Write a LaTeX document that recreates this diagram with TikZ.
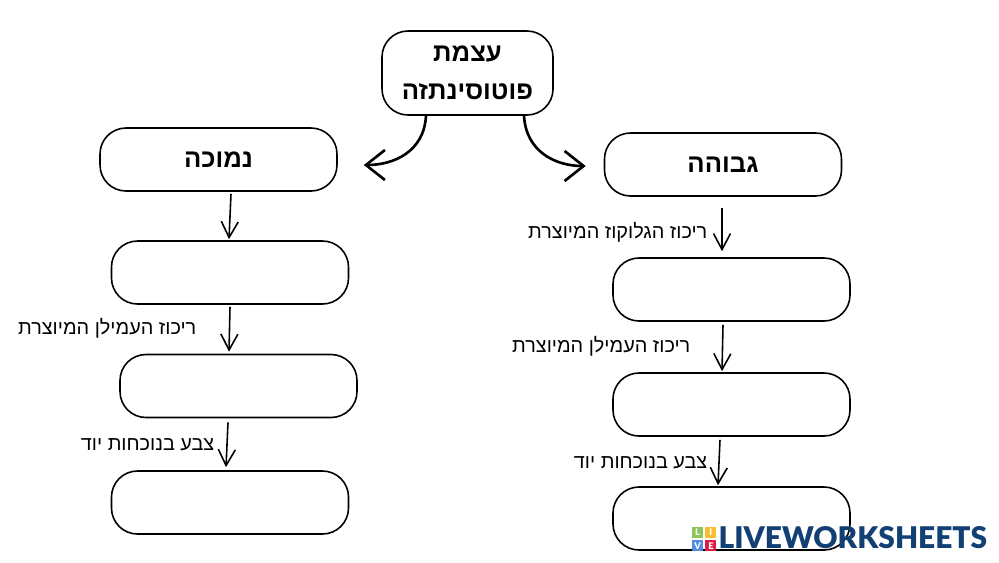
\documentclass[tikz,border=0pt]{standalone}
\usepackage{fontspec}
\usepackage{tikz}
\usetikzlibrary{positioning,calc,arrows.meta}
\TeXXeTstate=1
\newfontfamily\hebfont[Script=Hebrew]{Liberation Sans}
\newfontfamily\hebbold[Script=Hebrew]{Liberation Sans Bold}
\newfontfamily\logofont{Lato Black}
\newcommand{\heb}[1]{\beginR #1\endR}
\definecolor{LogoBlue}{RGB}{19,64,116}
\definecolor{LogoGreen}{RGB}{140,198,90}
\definecolor{LogoYellow}{RGB}{247,190,50}
\definecolor{LogoSky}{RGB}{82,140,222}
\definecolor{LogoRed}{RGB}{222,28,72}
\tikzset{
  roundbox/.style={draw=black, line width=0.45pt, rounded corners=0.26cm, fill=white, minimum width=2.37cm, minimum height=0.63cm, inner sep=0pt},
  titlefont/.style={font=\hebbold\fontsize{7.3}{10.7}\selectfont},
  labelfont/.style={font=\hebfont\fontsize{5.65}{6}\selectfont, anchor=east, inner sep=0pt},
  bigarrow/.style={line width=0.75pt, -{Straight Barb[length=0.19cm,width=0.3cm,line width=0.75pt]}},
  smallarrow/.style={line width=0.45pt, -{Straight Barb[length=0.16cm,width=0.17cm,line width=0.45pt]}},
  logosquare/.style={minimum size=0.11cm, inner sep=0pt, text=white, font=\logofont\fontsize{2.6}{3}\selectfont}
}
\begin{document}
\begin{tikzpicture}
  \useasboundingbox (0,0) rectangle (9.99,5.62);

  % Title box
  \node[roundbox, titlefont, align=center, minimum width=1.71cm, minimum height=0.84cm] (top) at (4.675,4.89) {\heb{עצמת}\\\heb{פוטוסינתזה}};

  % Left column
  \node[roundbox, titlefont] (low1) at (2.185,4.025) {\heb{נמוכה}};
  \node[roundbox] (low2) at (2.30,2.895) {};
  \node[roundbox] (low3) at (2.385,1.76) {};
  \node[roundbox] (low4) at (2.30,0.595) {};

  % Right column
  \node[roundbox, titlefont] (high1) at (7.23,3.975) {\heb{גבוהה}};
  \node[roundbox] (high2) at (7.315,2.725) {};
  \node[roundbox] (high3) at (7.315,1.575) {};
  \node[roundbox] (high4) at (7.315,0.435) {};

  % Branches
  \draw[bigarrow] ([xshift=-0.415cm]top.south) .. controls +(-0.02,-0.36) and +(0.3,0) .. ([xshift=0.26cm,yshift=-0.055cm]low1.east);
  \draw[bigarrow] ([xshift=0.565cm]top.south) .. controls +(0.02,-0.36) and +(-0.3,0) .. ([xshift=-0.18cm,yshift=-0.015cm]high1.west);

  % Column arrows
  \foreach \from/\to/\fx/\fy/\tx/\ty in {low1/low2/0.125/-0.02/-0.01/0.01, low2/low3/0/-0.02/-0.095/0.02, low3/low4/-0.105/-0.04/-0.04/0.03, high1/high2/-0.01/-0.11/-0.095/0.06, high2/high3/-0.085/-0.03/-0.095/0.01, high3/high4/-0.115/-0.03/-0.135/0.01} {
    \draw[smallarrow] ([xshift=\fx cm,yshift=\fy cm]\from.south) -- ([xshift=\tx cm,yshift=\ty cm]\to.north);
  }

  % Labels
  \node[labelfont] (glucose) at (7.08,3.295) {\heb{ריכוז הגלוקוז המיוצרת}};
  \node[labelfont] (starchr) at (6.91,2.155) {\heb{ריכוז העמילן המיוצרת}};
  \node[labelfont] (iodiner) at (7.08,0.995) {\heb{צבע בנוכחות יוד}};
  \node[labelfont] (starchl) at (1.97,2.335) {\heb{ריכוז העמילן המיוצרת}};
  \node[labelfont] (iodinel) at (2.15,1.175) {\heb{צבע בנוכחות יוד}};

  % Logo
  \node[logosquare, fill=LogoGreen] (sql) at (6.975,0.295) {L};
  \node[logosquare, fill=LogoYellow, right=0.01cm of sql] (sqi) {I};
  \node[logosquare, fill=LogoSky, below=0.01cm of sql] (sqv) {V};
  \node[logosquare, fill=LogoRed, right=0.01cm of sqv] (sqe) {E};
  \node[anchor=west, inner sep=0pt, text=LogoBlue, font=\logofont\fontsize{8.5}{10}\selectfont] (logo) at (7.18,0.245) {LIVEWORKSHEETS};
\end{tikzpicture}
\end{document}
